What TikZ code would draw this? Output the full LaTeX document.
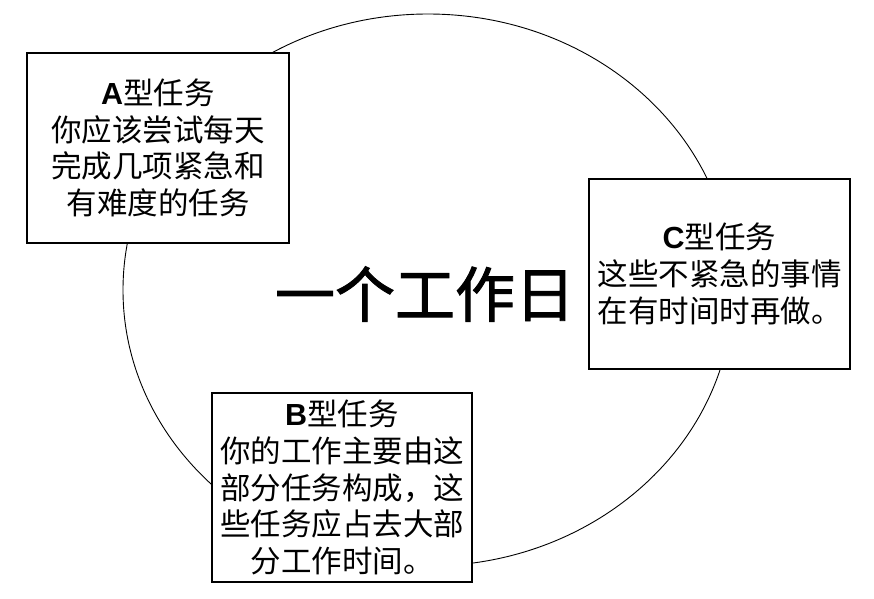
\documentclass[tikz,border=0pt]{standalone}
\usepackage{fontspec}
\setmainfont{Noto Sans CJK SC}
\newfontfamily\latinb{Liberation Sans}
\newfontfamily\titlefont[FakeBold=1.5]{Noto Sans CJK SC}
\tikzset{
  taskbox/.style={draw=black, line width=1.2pt, fill=white, inner sep=0pt,
    align=center, font=\fontsize{30.5}{36.8}\selectfont},
  ring/.style={draw=black, line width=0.9pt}
}
\newcommand{\lat}[1]{{\latinb\bfseries #1}}
\begin{document}
\begin{tikzpicture}[x=1pt,y=-1pt]
\useasboundingbox (0,0) rectangle (874,598);
\draw[ring] (428,290) ellipse [x radius=305, y radius=276];
\node[font=\titlefont\fontsize{60}{62}\selectfont] (title) at (425,294) {一个工作日};
\node[taskbox, minimum width=262pt, minimum height=190pt] (A) at (158,148)
  {\lat{A}型任务\\你应该尝试每天\\完成几项紧急和\\有难度的任务};
\node[taskbox, minimum width=261pt, minimum height=190pt] (C) at (719.5,274)
  {\lat{C}型任务\\这些不紧急的事情\\在有时间时再做。};
\node[taskbox, minimum width=260pt, minimum height=189pt] (B) at (342,487.5)
  {\lat{B}型任务\\你的工作主要由这\\部分任务构成，这\\些任务应占去大部\\分工作时间。};
\end{tikzpicture}
\end{document}
